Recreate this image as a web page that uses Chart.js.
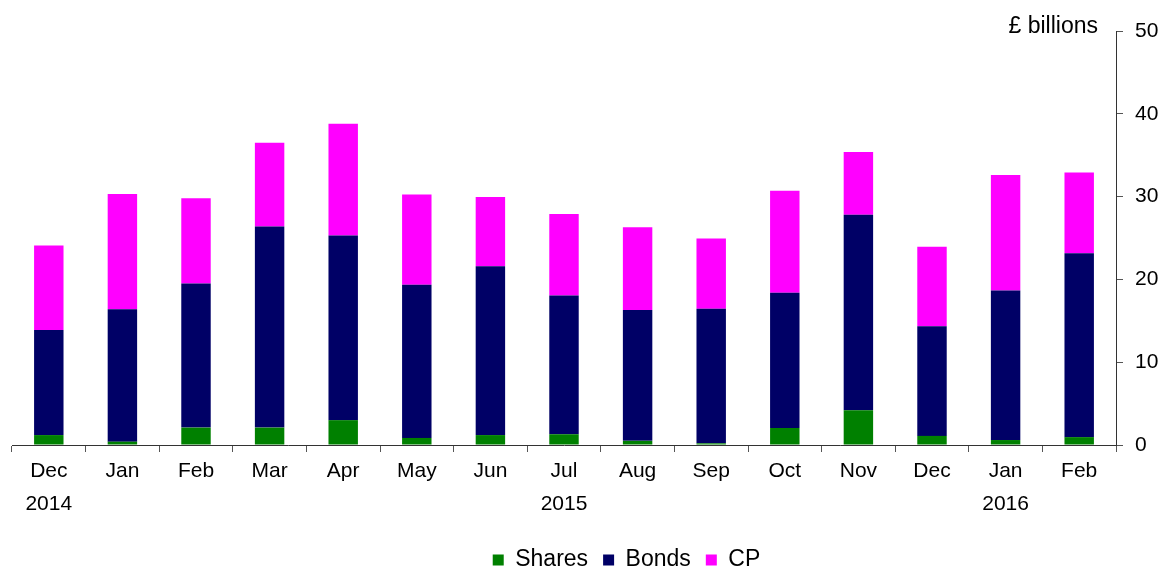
<!DOCTYPE html>
<html lang="en">
<head>
<meta charset="UTF-8">
<script src="https://cdn.jsdelivr.net/npm/chart.js"></script>
<style>
  html, body { margin: 0; padding: 0; background: #fff; }
  #wrap { width: 1161px; height: 569px; overflow: hidden; }
</style>
</head>
<body>
<div id="wrap"><canvas id="myChart" width="1161" height="569"></canvas></div>
<script>
// months and the year line shown under some of them
var months = ['Dec', 'Jan', 'Feb', 'Mar', 'Apr', 'May', 'Jun', 'Jul', 'Aug', 'Sep', 'Oct', 'Nov', 'Dec', 'Jan', 'Feb'];
var years = ['2014', '', '', '', '', '', '', '2015', '', '', '', '', '', '2016', ''];

// £ billions
var shares = [1.2, 0.4, 2.1, 2.1, 3.0, 0.85, 1.2, 1.3, 0.5, 0.2, 2.05, 4.2, 1.1, 0.6, 0.95];
var bonds = [12.7, 16.0, 17.4, 24.3, 22.3, 18.5, 20.4, 16.75, 15.8, 16.25, 16.35, 23.6, 13.25, 18.05, 22.2];
var cp = [10.2, 13.9, 10.3, 10.1, 13.5, 10.9, 8.35, 9.85, 10.0, 8.5, 12.3, 7.6, 9.6, 13.95, 9.75];

var yTicks = [0, 10, 20, 30, 40, 50];

var labels = months.map(function (m, i) { return [m, years[i]]; });
var font = 'Liberation Sans, Arial, sans-serif';

var unitLabel = {
    id: 'unitLabel',
    afterDraw: function (chart) {
        var ctx = chart.ctx;
        ctx.save();
        ctx.font = '23px ' + font;
        ctx.fillStyle = '#000';
        ctx.textAlign = 'right';
        ctx.textBaseline = 'alphabetic';
        ctx.fillText('£ billions', 1098, 33);
        ctx.restore();
    }
};

// legend in the original sits a bit right of centre
var legendShift = {
    id: 'legendShift',
    afterLayout: function (chart) {
        chart.legend.left += 40;
        chart.legend.right += 40;
    }
};

var ctx = document.getElementById('myChart').getContext('2d');
var myChart = new Chart(ctx, {
    type: 'bar',
    data: {
        labels: labels,
        datasets: [
            { label: 'Shares', data: shares, backgroundColor: '#008000', borderWidth: 0 },
            { label: 'Bonds', data: bonds, backgroundColor: '#000066', borderWidth: 0 },
            { label: 'CP', data: cp, backgroundColor: '#ff00ff', borderWidth: 0 }
        ]
    },
    options: {
        responsive: false,
        animation: false,
        categoryPercentage: 1,
        barPercentage: 0.4,
        layout: { padding: { left: 12, right: 0, top: 31, bottom: -12.5 } },
        plugins: {
            tooltip: { enabled: false },
            legend: {
                position: 'bottom',
                labels: {
                    boxWidth: 11,
                    boxHeight: 11,
                    padding: 15,
                    color: '#000',
                    font: { family: font, size: 23 }
                }
            }
        },
        scales: {
            x: {
                stacked: true,
                grid: { drawOnChartArea: false, tickLength: 7, color: '#555' },
                border: { display: true, color: '#333', width: 1 },
                ticks: {
                    color: '#000',
                    padding: 3,
                    maxRotation: 0,
                    autoSkip: false,
                    font: { family: font, size: 21, lineHeight: '33px' }
                },
                afterFit: function (scale) { scale.height = 88.5; }
            },
            y: {
                stacked: true,
                position: 'right',
                min: 0,
                max: 50,
                afterBuildTicks: function (scale) {
                    scale.ticks = yTicks.map(function (v) { return { value: v }; });
                },
                grid: { drawOnChartArea: false, tickLength: 7, color: '#555' },
                border: { display: true, color: '#333', width: 1 },
                ticks: {
                    color: '#000',
                    padding: 12,
                    font: { family: font, size: 21 }
                },
                afterFit: function (scale) { scale.width = 45; }
            }
        }
    },
    plugins: [unitLabel, legendShift]
});
</script>
</body>
</html>
